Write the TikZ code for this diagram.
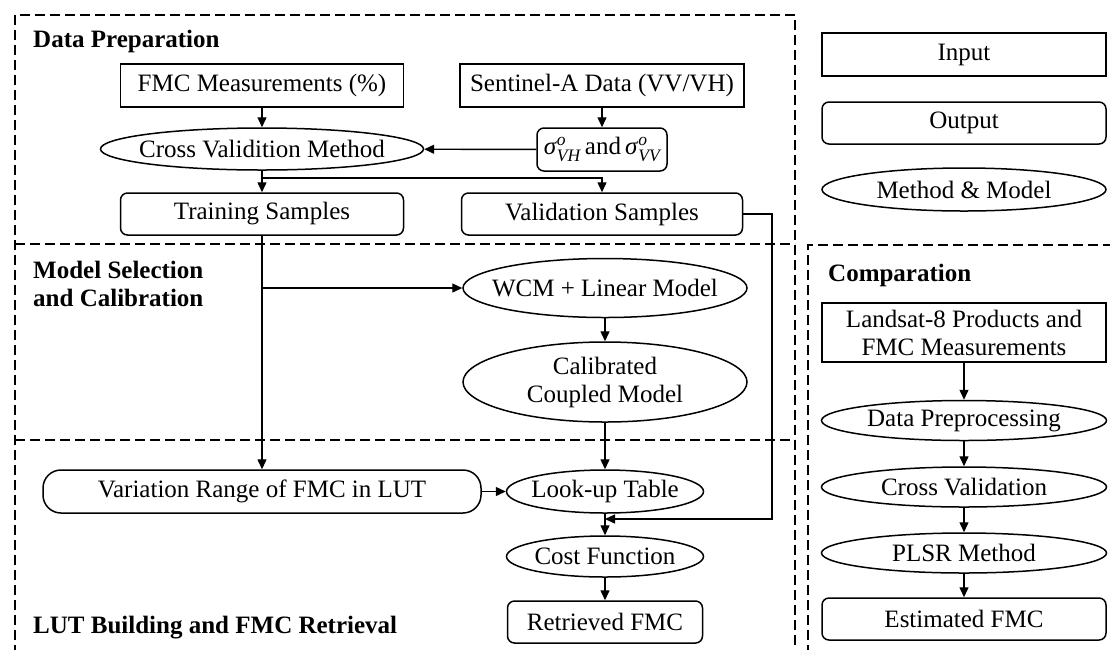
\documentclass[tikz,border=0pt]{standalone}
\usepackage{fontspec}
\usepackage{amsmath}
\setmainfont{Liberation Serif}
\usetikzlibrary{shapes.geometric,arrows.meta}
\newcommand\zw[1]{\makebox[0pt]{#1}}
\begin{document}
\begin{tikzpicture}[x=1pt,y=-1pt,
  base/.style={draw, line width=1.5pt, inner sep=0pt, font=\fontsize{25}{28}\selectfont},
  inbox/.style={base, rectangle, minimum width=#1, minimum height=43pt},
  inbox/.default=284pt,
  outbox/.style={base, rectangle, rounded corners=7pt, minimum width=#1, minimum height=42pt},
  outbox/.default=284pt,
  ell/.style={base, ellipse, minimum width=#1, minimum height=42pt},
  ell/.default=284pt,
  arr/.style={line width=1.4pt, -{Triangle[length=10pt,width=9pt]}},
  region/.style={line width=1.8pt, dash pattern=on 10pt off 5pt},
  title/.style={inner sep=0pt, anchor=west, font=\fontsize{25}{28}\selectfont\bfseries, align=left}
]
\clip (0,0) rectangle (1110,649);

% dashed regions
\draw[region] (15,700) -- (15,15) -- (795,15) -- (795,700);
\draw[region] (15,244) -- (795,244);
\draw[region] (15,440) -- (795,440);
\draw[region] (808,700) -- (808,245) -- (1130,245);

% titles
\node[title] (t1) at (33,41) {Data Preparation};
\node[title] (t2) at (33,284) {Model Selection\\and Calibration};
\node[title] (t3) at (33,628) {LUT Building and FMC Retrieval};
\node[title] (t4) at (828,275) {Comparation};

% data preparation
\node[inbox=283pt] (fmc) at (262,85.5) {FMC Measurements (\%)};
\node[inbox] (sen) at (602,85.5) {Sentinel-A Data (VV/VH)};
\node[ell=323pt] (cvm) at (262,149) {\zw{Cross Validition Method}};
\node[outbox=130pt, minimum height=43pt] (sig) at (602,149.5)
  {\textit{σ}$^{\textit{o}}_{\textit{VH}}$\,and\,\textit{σ}$^{\textit{o}}_{\textit{VV}}$};
\node[outbox=283pt] (train) at (262,214) {Training Samples};
\node[outbox=281pt] (val) at (602,214) {Validation Samples};

% model selection
\node[ell, minimum height=59pt] (wcm) at (605,288) {\zw{WCM + Linear Model}};
\node[ell, minimum height=80pt, align=center] (cal) at (605,382) {Calibrated\\Coupled Model};

% LUT
\node[outbox=438pt, rounded corners=18pt, minimum height=43pt] (var) at (262,491.5) {Variation Range of FMC in LUT};
\node[ell=197pt, minimum height=43pt] (lut) at (605,491.5) {\zw{Look-up Table}};
\node[ell=197pt, minimum height=41pt] (cost) at (605,556.5) {\zw{Cost Function}};
\node[outbox=195pt] (ret) at (605,622) {Retrieved FMC};

% legend
\node[inbox] (in) at (964,54.5) {Input};
\node[outbox] (out) at (964,123) {Output};
\node[ell, minimum height=43pt] (mm) at (964,189.5) {\zw{Method \& Model}};

% comparation
\node[inbox, minimum height=59pt, align=center] (land) at (964,332.5) {Landsat-8 Products and\\FMC Measurements};
\node[ell=285pt, minimum height=40pt] (dpp) at (964,420.5) {\zw{Data Preprocessing}};
\node[ell=285pt, minimum height=40pt] (cv) at (964,487) {\zw{Cross Validation}};
\node[ell=285pt, minimum height=40pt] (plsr) at (964,553) {\zw{PLSR Method}};
\node[outbox] (est) at (964,619) {Estimated FMC};

% connectors
\coordinate (j1) at (262,178);
\coordinate (j2) at (262,288);
\coordinate (vr) at (772,519);
\draw[arr] (fmc) -- (cvm);
\draw[arr] (sen) -- (sig);
\draw[arr] (sig) -- (cvm);
\draw[arr] (cvm) -- (train);
\draw[arr] (j1) -| (val.north);
\draw[arr] (train) -- (var);
\draw[arr] (j2) -- (wcm.west);
\draw[arr] (wcm) -- (cal);
\draw[arr] (cal) -- (lut);
\draw[arr] (var) -- (lut);
\draw[arr] (val.east) -| (vr) -- (lut.south |- vr);
\draw[arr] (lut) -- (cost);
\draw[arr] (cost) -- (ret);
\draw[arr] (land) -- (dpp);
\draw[arr] (dpp) -- (cv);
\draw[arr] (cv) -- (plsr);
\draw[arr] (plsr) -- (est);
\end{tikzpicture}
\end{document}
